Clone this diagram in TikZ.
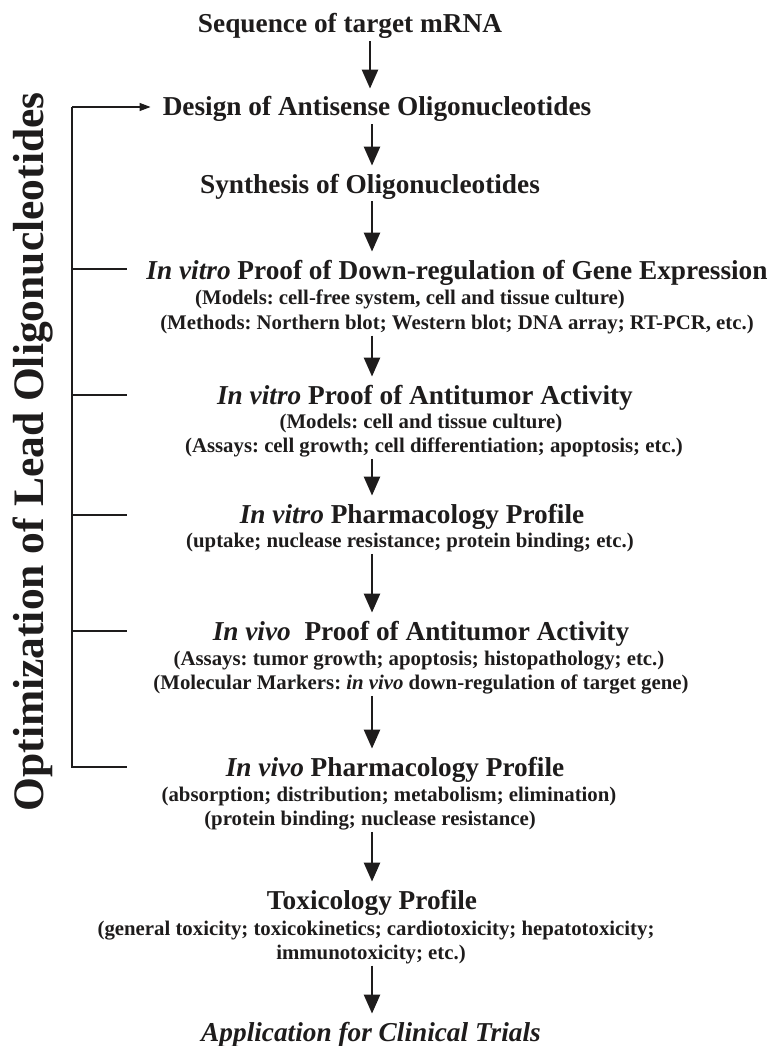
\documentclass[tikz,border=0pt]{standalone}
\usepackage{fontspec}
\setmainfont{Liberation Serif}
\usetikzlibrary{arrows.meta,calc}
\definecolor{ink}{RGB}{30,28,28}
\begin{document}
\frenchspacing
\begin{tikzpicture}[x=1pt,y=-1pt,
  ttl/.style={font=\fontsize{27.3}{27}\selectfont\bfseries, text=ink, inner sep=0pt, anchor=base},
  sub/.style={font=\fontsize{20.8}{21}\selectfont\bfseries, text=ink, inner sep=0pt, anchor=base},
  vert/.style={font=\fontsize{43.5}{43}\selectfont\bfseries, text=ink, inner sep=0pt, anchor=base, rotate=90},
  arr/.style={draw=ink, -{Triangle[width=16pt,length=19pt]}, line width=2.6pt, shorten <=2pt, shorten >=8pt},
  brk/.style={draw=ink, line width=1.2pt},
  brkarr/.style={brk, -{Triangle[width=8pt,length=11pt]}, shorten >=12pt}]
\useasboundingbox (0,0) rectangle (768,1046);
\coordinate (ax) at (372,0);
\coordinate (ax1) at (370,0);
% texts
\node[ttl] (seq) at (350,33) {Sequence of target mRNA};
\node[ttl] (des) at (377,116) {Design of Antisense Oligonucleotides};
\node[ttl] (syn) at (370,193) {Synthesis of Oligonucleotides};
\node[ttl] (ivd) at (457,279) {\textit{In vitro} Proof of Down-regulation of Gene Expression};
\node[sub] (ivd1) at (410,304) {(Models: cell-free system, cell and tissue culture)};
\node[sub] (ivd2) at (457,329) {(Methods: Northern blot; Western blot; DNA array; RT-PCR, etc.)};
\node[ttl] (iva) at (425,404) {\textit{In vitro} Proof of Antitumor Activity};
\node[sub] (iva1) at (421,428) {(Models: cell and tissue culture)};
\node[sub] (iva2) at (434,452) {(Assays: cell growth; cell differentiation; apoptosis; etc.)};
\node[ttl] (ivp) at (412,523) {\textit{In vitro} Pharmacology Profile};
\node[sub] (ivp1) at (410,547) {(uptake; nuclease resistance; protein binding; etc.)};
\node[ttl] (vva) at (421,640) {\textit{In vivo}~ Proof of Antitumor Activity};
\node[sub] (vva1) at (419,665) {(Assays: tumor growth; apoptosis; histopathology; etc.)};
\node[sub] (vva2) at (421,689) {(Molecular Markers: \textit{in vivo} down-regulation of target gene)};
\node[ttl] (vvp) at (395,776) {\textit{In vivo} Pharmacology Profile};
\node[sub] (vvp1) at (389,801) {(absorption; distribution; metabolism; elimination)};
\node[sub] (vvp2) at (370,825) {(protein binding; nuclease resistance)};
\node[ttl] (tox) at (372,909) {Toxicology Profile};
\node[sub] (tox1) at (376,935) {(general toxicity; toxicokinetics; cardiotoxicity; hepatotoxicity;};
\node[sub] (tox2) at (371,959) {immunotoxicity; etc.)};
\node[ttl] (app) at (371,1041) {\textit{Application for Clinical Trials}};
\node[vert] (opt) at (43,452) {Optimization of Lead Oligonucleotides};
% main arrows
\draw[arr] (seq.south -| ax1) -- (des.north -| ax1);
\draw[arr] (des.south -| ax) -- (syn.north -| ax);
\draw[arr] (syn.south -| ax) -- (ivd.north -| ax);
\draw[arr] (ivd2.south -| ax) -- (iva.north -| ax);
\draw[arr] (iva2.south -| ax) -- (ivp.north -| ax);
\draw[arr] (ivp1.south -| ax) -- (vva.north -| ax);
\draw[arr] (vva2.south -| ax) -- (vvp.north -| ax);
\draw[arr] (vvp2.south -| ax) -- (tox.north -| ax);
\draw[arr] (tox2.south -| ax) -- (app.north -| ax);
% bracket
\coordinate (bt) at (72,107);
\coordinate (b1) at (72,269); \coordinate (e1) at (127,269);
\coordinate (b2) at (72,395); \coordinate (e2) at (127,395);
\coordinate (b3) at (72,515); \coordinate (e3) at (127,515);
\coordinate (b4) at (72,631); \coordinate (e4) at (127,631);
\coordinate (bb) at (72,767); \coordinate (e5) at (127,767);
\draw[brk] (bt) -- (bb) -- (e5);
\draw[brk] (b1) -- (e1);
\draw[brk] (b2) -- (e2);
\draw[brk] (b3) -- (e3);
\draw[brk] (b4) -- (e4);
\draw[brkarr] (bt) -- (bt -| des.west);
\end{tikzpicture}
\end{document}
